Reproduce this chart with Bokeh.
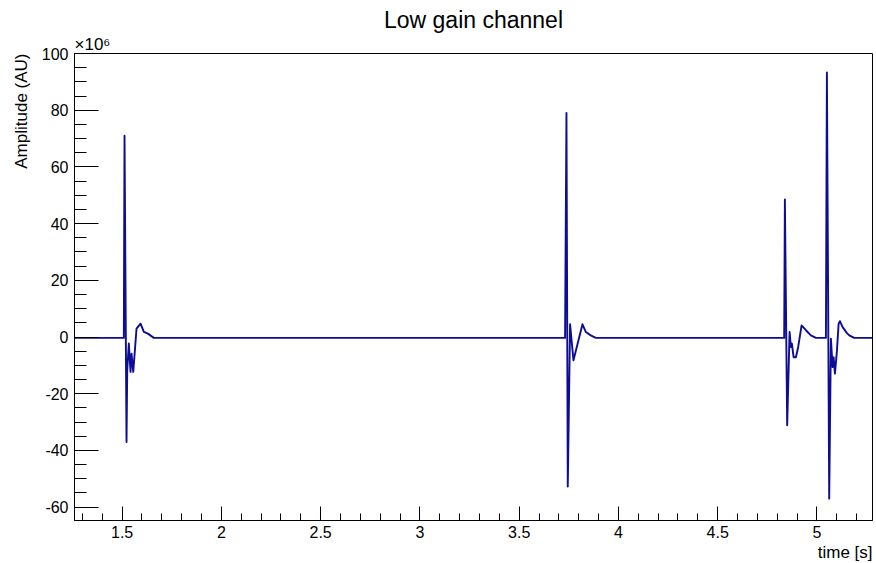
from bokeh.plotting import figure
from bokeh.models import Range1d, SingleIntervalTicker, Title, PrintfTickFormatter
from bokeh.embed import file_html
from bokeh.resources import INLINE

# ---- data (time in s, amplitude in units of 1e6 AU) ----
time_s = [1.26, 1.5085, 1.512, 1.522, 1.5256, 1.5337, 1.5423, 1.5473, 1.5559, 1.5725, 1.5927, 1.6093, 1.6295, 1.6597,
          3.7313, 3.7383, 3.7449, 3.7565, 3.7736, 3.8190, 3.8356, 3.8608, 3.8860,
          4.8351, 4.8386, 4.8502, 4.8623, 4.8689, 4.8739, 4.8825, 4.8941, 4.9057, 4.9228, 4.9445, 4.9697, 4.9949,
          5.0453, 5.0503, 5.0619, 5.0705, 5.0790, 5.0841, 5.0907, 5.1007, 5.1093, 5.1159, 5.1295, 5.1512, 5.1628, 5.1880, 5.28]
amplitude_e6 = [-0.3, -0.3, 71.0, -37.0, -11.7, -2.3, -12.3, -5.9, -12.3, 3.0, 4.7, 1.8, 1.2, -0.3,
                -0.3, 79.0, -52.7, 4.5, -8.2, 4.5, 1.8, 0.6, -0.3,
                -0.3, 48.5, -31.1, 1.8, -3.5, -2.3, -7.1, -7.1, -3.5, 4.1, 2.4, 0.6, -0.3,
                -0.3, 93.3, -57.0, -0.6, -10.6, -7.1, -12.9, -5.0, 4.7, 5.6, 3.5, 1.4, 0.6, -0.3, -0.3]

title_text = "Low gain channel"
x_title = "time [s]"
y_title = "Amplitude (AU)"
y_exponent = "×10⁶"

FONT = "Liberation Sans"
W, H = 874, 561

p = figure(width=W, height=H, output_backend="svg", toolbar_location=None,
           x_range=Range1d(1.26, 5.28), y_range=Range1d(-64.7, 100),
           min_border_left=74, min_border_right=2, min_border_top=53, min_border_bottom=41,
           background_fill_color="white", border_fill_color="white")

p.line(time_s, amplitude_e6, line_color="#0c0c96", line_width=1.9, line_join="round")

p.xgrid.visible = False
p.ygrid.visible = False
p.outline_line_color = "black"
p.outline_line_width = 1

p.xaxis.ticker = SingleIntervalTicker(interval=0.5, num_minor_ticks=5)
p.yaxis.ticker = SingleIntervalTicker(interval=20, num_minor_ticks=4)
p.yaxis.formatter = PrintfTickFormatter(format="%d")
for ax in (p.xaxis[0], p.yaxis[0]):
    ax.axis_line_color = "black"
    ax.major_tick_line_color = "black"
    ax.minor_tick_line_color = "black"
    ax.major_tick_out = 0
    ax.minor_tick_out = 0
    ax.major_label_text_font = FONT
    ax.major_label_text_font_size = "16px"
    ax.major_label_text_color = "black"
p.xaxis.major_tick_in = 14
p.xaxis.minor_tick_in = 7
p.yaxis.major_tick_in = 24
p.yaxis.minor_tick_in = 12
p.xaxis.major_label_standoff = 5
p.yaxis.major_label_standoff = 6

# main title
p.title.text = title_text
p.title.align = "center"
p.title.text_font = FONT
p.title.text_font_size = "23px"
p.title.text_font_style = "normal"
p.title.text_color = "black"
p.title.standoff = 0

# exponent above the y axis
p.add_layout(Title(text=y_exponent, align="left", text_font=FONT, text_font_size="17px",
                   text_font_style="normal", text_color="black", standoff=0), "above")
# axis titles, ROOT style (at the ends of the axes)
p.add_layout(Title(text=y_title, align="right", text_font=FONT, text_font_size="17px",
                   text_font_style="normal", text_color="black", standoff=15), "left")
p.add_layout(Title(text=x_title, align="right", text_font=FONT, text_font_size="17px",
                   text_font_style="normal", text_color="black", standoff=0), "below")

open("out.html", "w").write(file_html(p, INLINE))
